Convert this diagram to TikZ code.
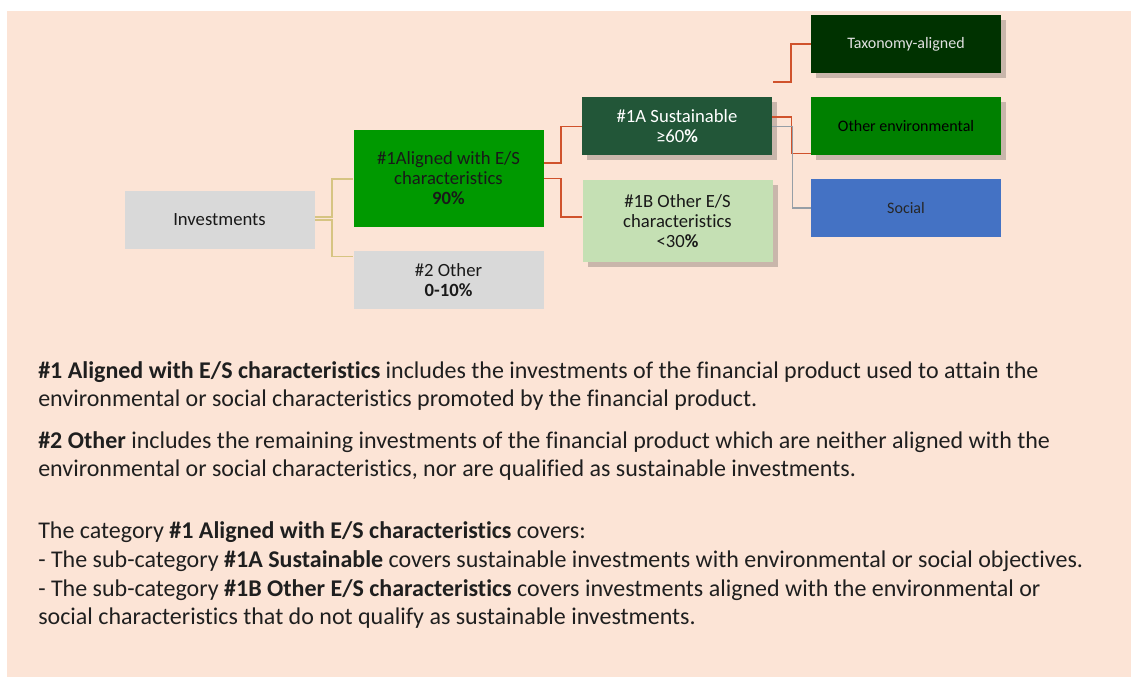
\documentclass[tikz,border=0pt]{standalone}
\usepackage{fontspec}
\setmainfont{Carlito}[Ligatures=NoCommon]
\usepackage{tikz}
\usetikzlibrary{positioning, calc, shadows}
\definecolor{peach}{RGB}{252,228,214}
\definecolor{boxgray}{RGB}{217,217,217}
\definecolor{alignedgreen}{RGB}{0,153,0}
\definecolor{sustgreen}{RGB}{34,86,56}
\definecolor{lightgreen}{RGB}{197,224,180}
\definecolor{taxgreen}{RGB}{0,50,0}
\definecolor{envgreen}{RGB}{0,128,0}
\definecolor{socialblue}{RGB}{68,114,196}
\definecolor{linered}{RGB}{208,82,44}
\definecolor{linetan}{RGB}{214,196,130}
\definecolor{linegray}{RGB}{150,158,166}

\begin{document}
\begin{tikzpicture}[x=0.75pt, y=-0.75pt]
	\tikzstyle{box}=[rectangle, minimum width=142.5pt, minimum height=43.5pt, align=center, inner sep=2pt, font=\fontsize{14}{15}\selectfont, text=black!90]
	\tikzstyle{smallbox}=[box, font=\fontsize{12}{14}\selectfont]
	\tikzstyle{shad}=[drop shadow={shadow xshift=3.75pt, shadow yshift=-3.75pt, opacity=0.2, fill=black}]
	\tikzstyle{tanline}=[draw=linetan, line width=1.1pt]
	\tikzstyle{redline}=[draw=linered, line width=1.1pt]
	\tikzstyle{grayline}=[draw=linegray, line width=1.1pt]
	\tikzstyle{body}=[anchor=base west, inner sep=0pt, font=\fontsize{18}{20}\selectfont, text=black!88]

	\useasboundingbox (0,0) rectangle (1131,677);
	\fill[peach] (7,11) rectangle (1131,677);

	\node (inv) at (219.5,220) [box, fill=boxgray] {Investments};
	\node (al) at (448.5,178.5) [box, fill=alignedgreen, minimum height=72.75pt] {\#1Aligned with E/S\\characteristics\\\textbf{90\%}};
	\node (oth) at (448.5,280) [box, fill=boxgray] {\#2 Other\\\textbf{0-10\%}};
	\node (sa) at (677,126.5) [box, shad, fill=sustgreen, text=white] {\#1A Sustainable\\≥60\textbf{\%}};
	\node (ob) at (677.5,221) [box, shad, fill=lightgreen, minimum height=61.5pt] {\#1B Other E/S\\characteristics\\<30\textbf{\%}};
	\node (tax) at (906,44) [smallbox, shad, fill=taxgreen, text=white!88!black] {Taxonomy-aligned};
	\node (oe) at (906,126.5) [smallbox, shad, fill=envgreen, text=black] {Other environmental};
	\node (so) at (906,208) [smallbox, fill=socialblue, text=black!85] {Social};

	\coordinate (taxstart) at (773,82);

	\draw[tanline] ($(inv.east)+(0,-3)$) -- ++(17,0) |- ($(al.west)+(0,0.5)$);
	\draw[tanline] (inv.east) -- ++(17,0) |- ($(oth.north west)+(0,6)$);

	\draw[redline] ($(al.east)+(0,-15.5)$) -- ++(17,0) |- (sa.west);
	\draw[redline] (al.east) -- ++(17,0) |- ($(ob.west)+(0,-4)$);

	\draw[redline] (taxstart) -- ++(18,0) |- (tax.west);
	\draw[redline] ($(sa.east)+(0,-9.5)$) -- ++(19,0) |- ($(oe.south west)+(0,-2)$);
	\draw[grayline] (sa.east) -- ++(20,0) |- (so.west);

	\node (t1) at (38,378) [body] {\textbf{\#1 Aligned with E/S characteristics} includes the investments of the financial product used to attain the};
	\node (t2) at (38,406) [body] {environmental or social characteristics promoted by the financial product.};
	\node (t3) at (38,448) [body] {\textbf{\#2 Other} includes the remaining investments of the financial product which are neither aligned with the};
	\node (t4) at (38,476) [body] {environmental or social characteristics, nor are qualified as sustainable investments.};
	\node (t5) at (38,538) [body] {The category \textbf{\#1 Aligned with E/S characteristics} covers:};
	\node (t6) at (38,567) [body] {- The sub-category \textbf{\#1A Sustainable} covers sustainable investments with environmental or social objectives.};
	\node (t7) at (38,596) [body] {- The sub-category \textbf{\#1B Other E/S characteristics} covers investments aligned with the environmental or};
	\node (t8) at (38,624) [body] {social characteristics that do not qualify as sustainable investments.};
\end{tikzpicture}
\end{document}
